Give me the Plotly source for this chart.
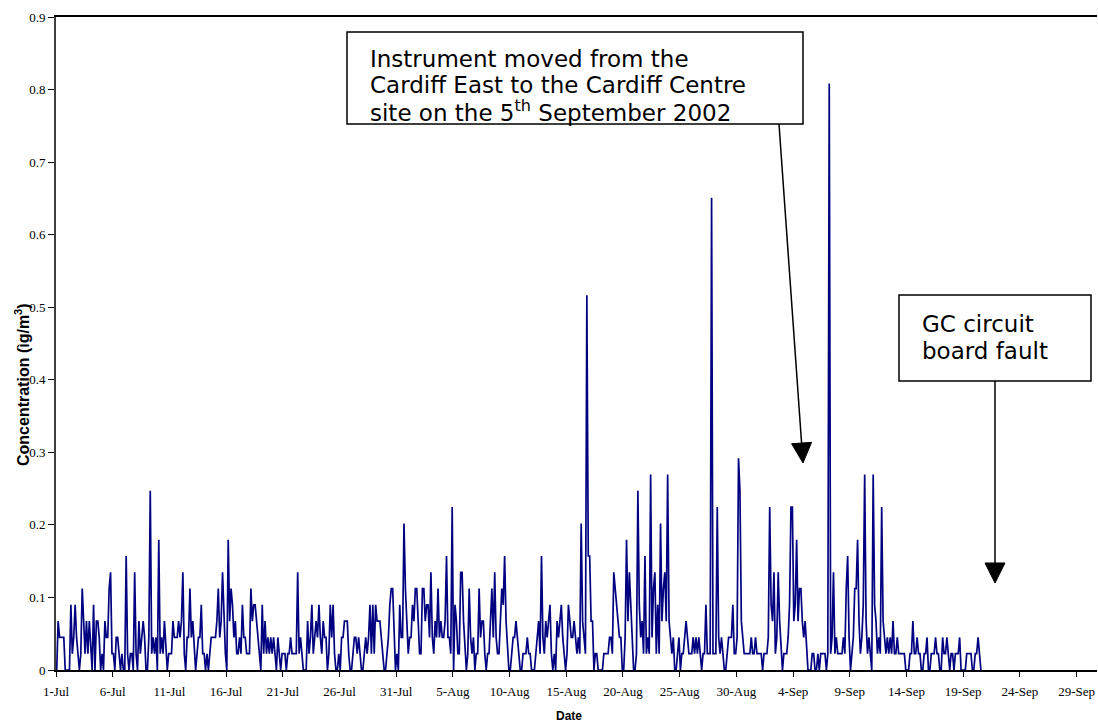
import math
import pandas as pd
import plotly.graph_objects as go

# Analyser output counts (3-hourly), one row per day; 1 count = 0.02245 ug/m3
STEP = 0.02245

jul_01_10 = [
    0, 3, 2, 2, 2, 2, 0, 0,
    0, 0, 4, 1, 2, 4, 2, 1,
    0, 1, 5, 3, 1, 3, 1, 3,
    1, 0, 4, 0, 3, 3, 2, 0,
    1, 0, 3, 2, 2, 5, 6, 1,
    1, 0, 2, 2, 1, 0, 1, 0,
    0, 7, 1, 0, 1, 1, 0, 6,
    1, 0, 3, 1, 2, 3, 2, 0,
    0, 2, 11, 1, 2, 1, 2, 0,
    8, 1, 2, 1, 3, 1, 0, 1,
]
jul_11_20 = [
    1, 1, 3, 2, 2, 2, 3, 2,
    3, 6, 1, 0, 2, 2, 5, 2,
    3, 1, 0, 1, 2, 2, 4, 1,
    1, 0, 1, 0, 1, 2, 2, 2,
    2, 3, 5, 2, 3, 6, 3, 1,
    0, 8, 3, 5, 4, 2, 3, 1,
    1, 2, 1, 4, 2, 2, 1, 1,
    1, 5, 3, 4, 4, 3, 2, 1,
    0, 4, 1, 3, 1, 2, 1, 2,
    1, 2, 1, 0, 2, 1, 0, 1,
]
jul_21_31 = [
    1, 1, 0, 1, 1, 2, 1, 1,
    1, 1, 6, 1, 2, 1, 0, 0,
    0, 3, 1, 2, 4, 1, 2, 3,
    2, 4, 2, 1, 3, 2, 2, 0,
    1, 4, 2, 4, 1, 0, 0, 1,
    0, 2, 2, 3, 3, 3, 1, 0,
    0, 1, 2, 2, 1, 2, 1, 0,
    0, 1, 2, 1, 2, 4, 1, 4,
    1, 4, 3, 3, 3, 2, 1, 0,
    0, 1, 2, 4, 5, 5, 3, 0,
    1, 0, 4, 2, 2, 9, 5, 3,
]
aug_01_10 = [
    1, 2, 2, 4, 3, 5, 5, 3,
    1, 1, 5, 5, 3, 4, 4, 2,
    6, 2, 1, 3, 2, 5, 2, 3,
    2, 2, 3, 7, 2, 2, 1, 10,
    0, 4, 3, 1, 1, 6, 6, 3,
    1, 0, 1, 5, 2, 1, 2, 0,
    1, 1, 5, 2, 3, 3, 1, 0,
    1, 1, 3, 5, 2, 6, 2, 1,
    1, 3, 5, 4, 7, 3, 1, 0,
    0, 1, 2, 2, 3, 2, 1, 0,
]
aug_11_20 = [
    0, 1, 1, 1, 2, 1, 1, 0,
    0, 0, 1, 2, 3, 1, 7, 2,
    1, 3, 2, 3, 4, 1, 0, 1,
    0, 3, 2, 3, 4, 2, 1, 0,
    1, 4, 3, 2, 2, 3, 2, 1,
    2, 1, 9, 3, 2, 1, 23, 7,
    7, 3, 3, 0, 1, 1, 0, 0,
    0, 0, 1, 1, 1, 1, 2, 2,
    1, 6, 5, 4, 3, 2, 2, 0,
    0, 2, 8, 3, 6, 4, 1, 0,
]
aug_21_31 = [
    0, 1, 11, 4, 2, 3, 1, 7,
    1, 2, 1, 12, 2, 5, 6, 1,
    4, 1, 9, 3, 5, 6, 3, 12,
    3, 2, 1, 2, 0, 0, 1, 2,
    0, 1, 1, 2, 3, 2, 1, 1,
    1, 2, 1, 2, 1, 2, 1, 0,
    1, 1, 4, 1, 1, 1, 29, 1,
    1, 1, 10, 2, 1, 2, 1, 0,
    0, 1, 2, 2, 2, 4, 1, 1,
    2, 13, 11, 3, 2, 1, 1, 1,
    1, 1, 2, 1, 1, 2, 1, 1,
]
sep_01_10 = [
    1, 1, 0, 1, 1, 1, 2, 10,
    4, 3, 6, 1, 2, 6, 3, 1,
    0, 1, 1, 1, 2, 4, 10, 10,
    3, 4, 8, 3, 5, 5, 3, 2,
    3, 1, 0, 0, 0, 1, 1, 0,
    0, 1, 0, 1, 1, 1, 1, 0,
    1, 36, 1, 2, 6, 1, 2, 1,
    1, 1, 1, 2, 1, 5, 7, 2,
    0, 1, 2, 5, 5, 8, 3, 1,
    2, 4, 12, 3, 1, 2, 1, 0,
]
sep_11_20 = [
    12, 4, 3, 1, 2, 1, 10, 3,
    2, 1, 2, 1, 2, 1, 3, 1,
    1, 2, 1, 1, 1, 1, 1, 0,
    0, 0, 1, 1, 3, 1, 1, 2,
    1, 1, 0, 0, 1, 1, 2, 0,
    0, 1, 1, 1, 2, 1, 1, 0,
    0, 2, 1, 1, 2, 1, 0, 1,
    1, 0, 1, 1, 1, 2, 0, 0,
    0, 0, 1, 1, 1, 1, 0, 0,
    1, 1, 2, 1, 0,
]

counts = (jul_01_10 + jul_11_20 + jul_21_31 + aug_01_10 + aug_11_20
          + aug_21_31 + sep_01_10 + sep_11_20)
times = pd.date_range("2002-07-01 01:30", periods=len(counts), freq="3h")
conc = [c * STEP for c in counts]

# plot-area geometry in pixels
W, H = 1098, 724
L, R, T, B = 56, 1097, 17, 670


def px(x):
    return (x - L) / (R - L)


def py(y):
    return (B - y) / (B - T)


fig = go.Figure()
fig.add_trace(go.Scatter(
    x=times, y=conc, mode="lines",
    line=dict(color="#000080", width=1.7),
    showlegend=False, hoverinfo="x+y",
))

tick_font = dict(family="Liberation Serif, Times New Roman, serif", size=13, color="black")

fig.update_layout(
    width=W, height=H,
    margin=dict(l=L, r=W - R, t=T, b=H - B),
    paper_bgcolor="white", plot_bgcolor="white",
    xaxis=dict(
        type="date",
        range=["2002-07-01 00:00", "2002-09-30 19:12"],
        tick0="2002-07-01", dtick=5 * 86400000,
        tickformat="%-d-%b",
        ticks="outside", ticklen=5, tickcolor="black", tickwidth=1,
        ticklabelstandoff=4,
        showline=True, linecolor="black", linewidth=1.5, mirror=True,
        showgrid=False, zeroline=False,
        tickfont=tick_font,
    ),
    yaxis=dict(
        range=[0, 0.9], dtick=0.1, tick0=0,
        ticks="outside", ticklen=6, tickcolor="black", tickwidth=1,
        showline=True, linecolor="#404040", linewidth=2,
        showgrid=False, zeroline=False,
        tickfont=tick_font,
    ),
)

box_line = dict(color="black", width=1.5)
fig.add_shape(type="rect", xref="paper", yref="paper",
              x0=px(347), x1=px(803), y0=py(124), y1=py(32),
              line=box_line, fillcolor="white", layer="above")
fig.add_shape(type="rect", xref="paper", yref="paper",
              x0=px(899), x1=px(1091), y0=py(381), y1=py(295),
              line=box_line, fillcolor="white", layer="above")

note_font = dict(family="DejaVu Sans, Verdana, sans-serif", size=23, color="black")
notes = [
    ("Instrument moved from the", 368, 59),
    ("Cardiff East to the Cardiff Centre", 368, 85),
    ("site on the 5<sup>th</sup> September 2002", 368, 111),
    ("GC circuit", 920, 324),
    ("board fault", 920, 351),
]
for txt, x, y in notes:
    fig.add_annotation(text=txt, xref="paper", yref="paper",
                       x=px(x), y=py(y), xanchor="left", yanchor="middle",
                       showarrow=False, font=note_font)


# arrows from the note boxes down to the events: shaft + filled head
def arrow(tail, tip, head_len=20, head_w=20):
    dx, dy = tip[0] - tail[0], tip[1] - tail[1]
    n = math.hypot(dx, dy)
    ux, uy = dx / n, dy / n
    bx, by = tip[0] - head_len * ux, tip[1] - head_len * uy
    qx, qy = -uy, ux
    fig.add_shape(type="line", xref="paper", yref="paper",
                  x0=px(tail[0]), y0=py(tail[1]), x1=px(bx), y1=py(by),
                  line=dict(color="black", width=1.5), layer="above")
    c1 = (bx + head_w / 2 * qx, by + head_w / 2 * qy)
    c2 = (bx - head_w / 2 * qx, by - head_w / 2 * qy)
    path = "M {:.5f} {:.5f} L {:.5f} {:.5f} L {:.5f} {:.5f} Z".format(
        px(tip[0]), py(tip[1]), px(c1[0]), py(c1[1]), px(c2[0]), py(c2[1]))
    fig.add_shape(type="path", xref="paper", yref="paper", path=path,
                  fillcolor="black", line=dict(color="black", width=1),
                  layer="above")


arrow((779, 124), (803, 463))
arrow((995, 381), (995, 583))

title_font = dict(family="Liberation Sans, Arial, sans-serif", size=12, color="black")
fig.add_annotation(text="<b>Date</b>", xref="paper", yref="paper",
                   x=px(569), y=py(716), xanchor="center", yanchor="middle",
                   showarrow=False, font=title_font)
fig.add_annotation(text="<b>Concentration (ìg/m<sup>3</sup>)</b>",
                   xref="paper", yref="paper",
                   x=px(22), y=py(385), xanchor="center", yanchor="middle",
                   textangle=-90, showarrow=False,
                   font=dict(family="Liberation Sans, Arial, sans-serif", size=16, color="black"))

fig.write_html("out.html")
